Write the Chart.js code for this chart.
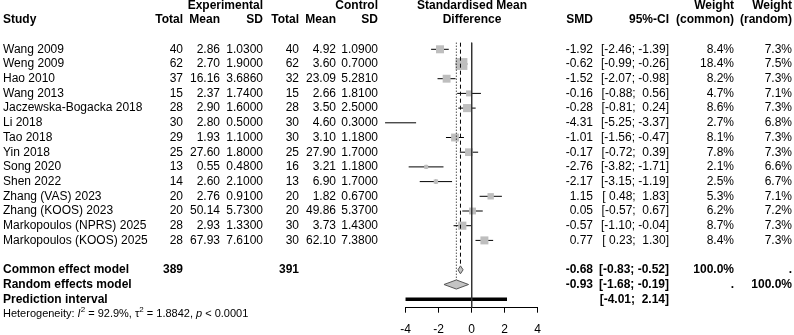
<!DOCTYPE html>
<html>
<head>
<meta charset="utf-8">
<script src="https://cdn.jsdelivr.net/npm/chart.js@4.4.1/dist/chart.umd.min.js"></script>
<style>
  body { margin: 0; background: #fff; }
  #wrap { position: relative; width: 794px; height: 335px; }
</style>
</head>
<body>
<div id="wrap"><canvas id="forest"></canvas></div>
<script>
// study data
const studies = ["Wang 2009", "Weng 2009", "Hao 2010", "Wang 2013", "Jaczewska-Bogacka 2018", "Li 2018", "Tao 2018",
  "Yin 2018", "Song 2020", "Shen 2022", "Zhang (VAS) 2023", "Zhang (KOOS) 2023", "Markopoulos (NPRS) 2025", "Markopoulos (KOOS) 2025"];
const expTotal = [40, 62, 37, 15, 28, 30, 29, 25, 13, 14, 20, 20, 28, 28];
const expMean = [2.86, 2.70, 16.16, 2.37, 2.90, 2.80, 1.93, 27.60, 0.55, 2.60, 2.76, 50.14, 2.93, 67.93];
const expSD = [1.03, 1.9, 3.686, 1.74, 1.6, 0.5, 1.1, 1.8, 0.48, 2.1, 0.91, 5.73, 1.33, 7.61];
const ctrlTotal = [40, 62, 32, 15, 28, 30, 30, 25, 16, 13, 20, 20, 30, 30];
const ctrlMean = [4.92, 3.60, 23.09, 2.66, 3.50, 4.60, 3.10, 27.90, 3.21, 6.90, 1.82, 49.86, 3.73, 62.10];
const ctrlSD = [1.09, 0.7, 5.281, 1.81, 2.5, 0.3, 1.18, 1.7, 1.18, 1.7, 0.67, 5.37, 1.43, 7.38];
const smd = [-1.92, -0.62, -1.52, -0.16, -0.28, -4.31, -1.01, -0.17, -2.76, -2.17, 1.15, 0.05, -0.57, 0.77];
const ciLow = [-2.46, -0.99, -2.07, -0.88, -0.81, -5.25, -1.56, -0.72, -3.82, -3.15, 0.48, -0.57, -1.10, 0.23];
const ciHigh = [-1.39, -0.26, -0.98, 0.56, 0.24, -3.37, -0.47, 0.39, -1.71, -1.19, 1.83, 0.67, -0.04, 1.30];
const wCommon = [8.4, 18.4, 8.2, 4.7, 8.6, 2.7, 8.1, 7.8, 2.1, 2.5, 5.3, 6.2, 8.7, 8.4];
const wRandom = [7.3, 7.5, 7.3, 7.1, 7.3, 6.8, 7.3, 7.3, 6.6, 6.7, 7.1, 7.2, 7.3, 7.3];

// pooled results
const commonEst = -0.68, commonLow = -0.83, commonHigh = -0.52;
const randomEst = -0.93, randomLow = -1.68, randomHigh = -0.19;
const predLow = -4.01, predHigh = 2.14;
const totalExp = 389, totalCtrl = 391;
const hetI2 = "92.9%", hetTau2 = "1.8842", hetP = "< 0.0001";
const xTickValues = [-4, -2, 0, 2, 4];

// row numbers (study rows are 0..13, headers -3 and -2)
const rowCommon = 15, rowRandom = 16, rowPred = 17, rowHet = 18;
const ROW0 = 49.3, ROWH = 14.7;   // pixel of row 0 and row height
const AXIS_Y = 307.7;             // pixel of the x axis line

const FONT = "'Liberation Sans', Arial, sans-serif";
Chart.defaults.font.family = FONT;
Chart.defaults.font.size = 12;
Chart.defaults.color = '#000';

// column positions for the text table
const col = {
  study: 3, eTot: 183, eMean: 220, eSD: 263, cTot: 299, cMean: 336, cSD: 378,
  plot: 472, smd: 593, ci: 669, wC: 734, wR: 792
};

function fmtCI(lo, hi) {
  const f = v => (v < 0 ? '' : ' ') + v.toFixed(2);
  return '[' + f(lo) + '; ' + f(hi) + ']';
}

function diamond(lo, est, hi, row, h) {
  return [{x: lo, y: row}, {x: est, y: row - h}, {x: hi, y: row}, {x: est, y: row + h}, {x: lo, y: row}];
}

const ciSets = studies.map((s, i) => ({
  data: [{x: ciLow[i], y: i}, {x: ciHigh[i], y: i}],
  showLine: true, pointRadius: 0, borderColor: '#000', borderWidth: 1, clip: false
}));

const datasets = [
  // reference line at zero (clipped at the axis)
  {data: [{x: 0, y: -0.45}, {x: 0, y: 40}], showLine: true, pointRadius: 0, borderColor: '#333', borderWidth: 1},
  // common effect (dashed) and random effects (dotted)
  {data: [{x: commonEst, y: -0.45}, {x: commonEst, y: rowCommon - 0.27}], showLine: true, pointRadius: 0,
    borderColor: '#000', borderWidth: 1, borderDash: [4, 3]},
  {data: [{x: randomEst, y: -0.45}, {x: randomEst, y: rowRandom - 0.31}], showLine: true, pointRadius: 0,
    borderColor: '#000', borderWidth: 1, borderDash: [1, 2]},
  // weight squares
  {data: smd.map((v, i) => ({x: v, y: i})), pointStyle: 'rect',
    pointRadius: wCommon.map(w => 2.76 * Math.sqrt(w) / Math.SQRT2),
    backgroundColor: '#bebebe', borderWidth: 0, clip: false},
  ...ciSets,
  // point estimate marks
  {data: smd.map((v, i) => ({x: v, y: i})), pointStyle: 'line', rotation: 90, pointRadius: 2,
    borderColor: '#000', borderWidth: 1, clip: false},
  // summary diamonds
  {data: diamond(commonLow, commonEst, commonHigh, rowCommon, 0.27), showLine: true, fill: 'shape',
    pointRadius: 0, borderColor: '#555', borderWidth: 1, backgroundColor: '#c4c4c4'},
  {data: diamond(randomLow, randomEst, randomHigh, rowRandom, 0.31), showLine: true, fill: 'shape',
    pointRadius: 0, borderColor: '#555', borderWidth: 1, backgroundColor: '#c4c4c4'},
  // prediction interval
  {data: [{x: predLow, y: rowPred}, {x: predHigh, y: rowPred}], showLine: true, pointRadius: 0,
    borderColor: '#000', borderWidth: 3.5, borderCapStyle: 'butt', clip: false}
];

// keep the rows on a fixed pitch whatever height the axis takes
const rowPlugin = {
  id: 'rows',
  afterLayout(chart) {
    const ys = chart.scales.y;
    ys.min = (ys.top - ROW0) / ROWH;
    ys.max = (ys.bottom - ROW0) / ROWH;
    ys.configure();
  }
};

const tablePlugin = {
  id: 'table',
  afterDraw(chart) {
    const ctx = chart.ctx;
    const ys = chart.scales.y;
    function txt(s, x, row, align, bold, size) {
      ctx.font = (bold ? 'bold ' : '') + (size || 12) + 'px ' + FONT;
      ctx.textAlign = align || 'right';
      ctx.textBaseline = 'middle';
      ctx.fillStyle = '#000';
      ctx.fillText(String(s), x, ys.getPixelForValue(row));
    }
    ctx.save();
    // headers
    txt('Experimental', col.eSD, -3, 'right', true);
    txt('Control', col.cSD, -3, 'right', true);
    txt('Standardised Mean', col.plot, -3, 'center', true);
    txt('Weight', col.wC, -3, 'right', true);
    txt('Weight', col.wR, -3, 'right', true);
    txt('Study', col.study, -2, 'left', true);
    txt('Total', col.eTot, -2, 'right', true);
    txt('Mean', col.eMean, -2, 'right', true);
    txt('SD', col.eSD, -2, 'right', true);
    txt('Total', col.cTot, -2, 'right', true);
    txt('Mean', col.cMean, -2, 'right', true);
    txt('SD', col.cSD, -2, 'right', true);
    txt('Difference', col.plot, -2, 'center', true);
    txt('SMD', col.smd, -2, 'right', true);
    txt('95%-CI', col.ci, -2, 'right', true);
    txt('(common)', col.wC, -2, 'right', true);
    txt('(random)', col.wR, -2, 'right', true);
    // study rows
    studies.forEach((s, i) => {
      txt(s, col.study, i, 'left');
      txt(expTotal[i], col.eTot, i);
      txt(expMean[i].toFixed(2), col.eMean, i);
      txt(expSD[i].toFixed(4), col.eSD, i);
      txt(ctrlTotal[i], col.cTot, i);
      txt(ctrlMean[i].toFixed(2), col.cMean, i);
      txt(ctrlSD[i].toFixed(4), col.cSD, i);
      txt(smd[i].toFixed(2), col.smd, i);
      txt(fmtCI(ciLow[i], ciHigh[i]), col.ci, i);
      txt(wCommon[i].toFixed(1) + '%', col.wC, i);
      txt(wRandom[i].toFixed(1) + '%', col.wR, i);
    });
    // summary rows
    txt('Common effect model', col.study, rowCommon, 'left', true);
    txt(totalExp, col.eTot, rowCommon, 'right', true);
    txt(totalCtrl, col.cTot, rowCommon, 'right', true);
    txt(commonEst.toFixed(2), col.smd, rowCommon, 'right', true);
    txt(fmtCI(commonLow, commonHigh), col.ci, rowCommon, 'right', true);
    txt('100.0%', col.wC, rowCommon, 'right', true);
    txt('.', col.wR, rowCommon, 'right', true);
    txt('Random effects model', col.study, rowRandom, 'left', true);
    txt(randomEst.toFixed(2), col.smd, rowRandom, 'right', true);
    txt(fmtCI(randomLow, randomHigh), col.ci, rowRandom, 'right', true);
    txt('.', col.wC, rowRandom, 'right', true);
    txt('100.0%', col.wR, rowRandom, 'right', true);
    txt('Prediction interval', col.study, rowPred, 'left', true);
    txt(fmtCI(predLow, predHigh), col.ci, rowPred, 'right', true);
    // heterogeneity line with italics and superscripts
    const hy = ys.getPixelForValue(rowHet);
    let x = col.study;
    const parts = [
      ['Heterogeneity: ', '', 11, 0], ['I', 'italic ', 11, 0], ['2', '', 8, -4],
      [' = ' + hetI2 + ', \u03c4', '', 11, 0], ['2', '', 8, -4],
      [' = ' + hetTau2 + ', ', '', 11, 0], ['p', 'italic ', 11, 0], [' ' + hetP, '', 11, 0]
    ];
    ctx.textAlign = 'left';
    ctx.textBaseline = 'middle';
    parts.forEach(p => {
      ctx.font = p[1] + p[2] + 'px ' + FONT;
      ctx.fillText(p[0], x, hy + p[3]);
      x += ctx.measureText(p[0]).width;
    });
    ctx.restore();
  }
};

new Chart(document.getElementById('forest'), {
  type: 'scatter',
  data: {datasets: datasets},
  options: {
    responsive: true,
    maintainAspectRatio: false,
    animation: false,
    layout: {padding: {left: 405.7, right: 256.3, top: 0, bottom: 0}},
    plugins: {legend: {display: false}, tooltip: {enabled: false}},
    elements: {line: {tension: 0}},
    scales: {
      x: {
        type: 'linear', min: -4, max: 4,
        afterBuildTicks: axis => { axis.ticks = xTickValues.map(v => ({value: v})); },
        afterFit: axis => { axis.height = 335 - AXIS_Y; },
        ticks: {padding: 9.4, color: '#000', font: {size: 12}},
        grid: {drawOnChartArea: false, drawTicks: true, tickLength: 5, color: '#000'},
        border: {display: true, color: '#000', width: 1}
      },
      y: {type: 'linear', min: -3.35, max: 17.58, reverse: true, display: false}
    }
  },
  plugins: [rowPlugin, tablePlugin]
});
</script>
</body>
</html>
